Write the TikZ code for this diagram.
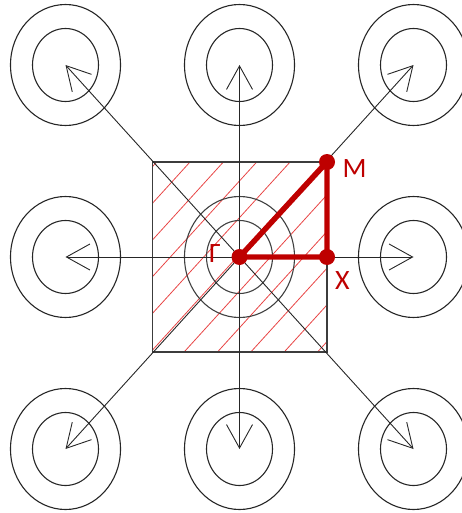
\documentclass[tikz,border=0pt]{standalone}
\usepackage{fontspec}
\setmainfont{Carlito}
\usetikzlibrary{arrows.meta}
\definecolor{dred}{RGB}{190,0,0}
\definecolor{hred}{RGB}{232,70,70}
\definecolor{edge}{RGB}{60,60,60}
\begin{document}
\begin{tikzpicture}[x=1pt,y=-1pt,
  ring/.style={draw=black!85,line width=1.1pt},
  vec/.style={draw=black!85,line width=0.9pt,-{Straight Barb[length=23.5pt,width=26pt,line width=0.9pt]}},
  hatch/.style={draw=hred,line width=0.8pt},
  zone/.style={draw=edge,line width=1.4pt},
  path/.style={draw=dred,line width=5.4pt},
  dot/.style={circle,fill=dred,inner sep=0pt,minimum size=16pt},
  lbl/.style={text=dred,font=\fontsize{28}{30}\selectfont,inner sep=0pt}]
\useasboundingbox (0,0) rectangle (462,513);
% lattice points
\coordinate (G) at (239.5,257);
\coordinate (NW) at (65.5,65);
\coordinate (N) at (239.5,65);
\coordinate (NE) at (413.5,65);
\coordinate (W) at (65.5,257);
\coordinate (E) at (413.5,257);
\coordinate (SW) at (65.5,449);
\coordinate (S) at (239.5,449);
\coordinate (SE) at (413.5,449);
\coordinate (Mp) at (327,162);
\coordinate (Xp) at (327,257);
% hatching of the first zone
\begin{scope}
  \clip (152.5,162) rectangle (327,352);
  \foreach \k in {-1,...,10}{
    \pgfmathsetmacro{\c}{371+36.7*\k}
    \draw[hatch] ({(\c-352)/1.1},352) -- ({(\c-162)/1.1},162);
  }
\end{scope}
\draw[zone] (152.5,162) rectangle (327,352);
% rings
\foreach \p in {NW,N,NE,W,E,SW,S,SE}{
  \draw[ring] (\p) ellipse [x radius=55, y radius=60.5];
  \draw[ring] (\p) ellipse [x radius=33, y radius=36.5];
}
\draw[ring,draw=black!75] (G) ellipse [x radius=55, y radius=60.5];
\draw[ring,draw=black!75] (G) ellipse [x radius=33, y radius=36.5];
% reciprocal vectors
\foreach \p in {NW,N,NE,W,E,SW,S,SE}{
  \draw[vec] (G) -- (\p);
}
% path Gamma-X-M
\draw[path,line join=round] (G) -- (Xp) -- (Mp) -- cycle;
\node[dot] (Gd) at (G) {};
\node[dot] (Md) at (Mp) {};
\node[dot] (Xd) at (Xp) {};
\node[lbl] (Gl) at (215,254) {Γ};
\node[lbl] (Ml) at (354.5,169) {M};
\node[lbl] (Xl) at (342.5,281) {X};
\end{tikzpicture}
\end{document}
